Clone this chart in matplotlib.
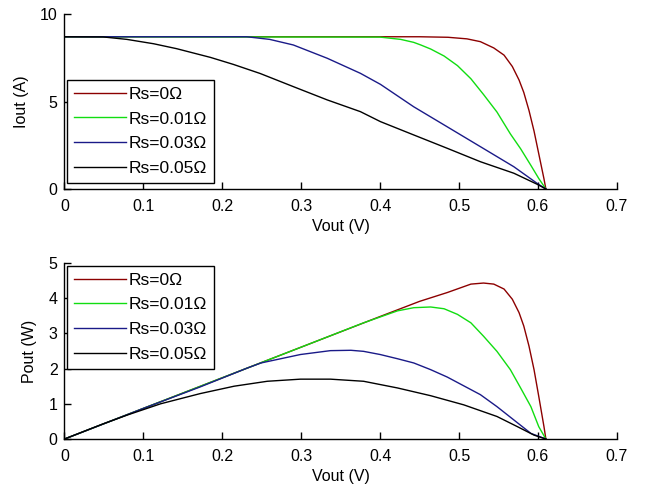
import matplotlib
matplotlib.use("Agg")
import matplotlib.pyplot as plt

plt.rcParams["font.family"] = ["Liberation Sans", "DejaVu Sans"]
plt.rcParams["font.size"] = 11.5

labels = ["Rs=0\u03a9", "Rs=0.01\u03a9", "Rs=0.03\u03a9", "Rs=0.05\u03a9"]
colors = ["#8c0000", "#11dd11", "#1a1a88", "#000000"]

# I-V curves
v_i_rs0 = [0, 0.45, 0.486, 0.51, 0.527, 0.544, 0.557, 0.5675, 0.576, 0.582, 0.5886, 0.595, 0.601,
           0.6076, 0.61]
i_rs0 = [8.7, 8.7, 8.67, 8.58, 8.42, 8.06, 7.65, 7.0, 6.23, 5.52, 4.49, 3.31, 2.01, 0.58, 0]

v_i_rs001 = [0, 0.40, 0.426, 0.4425, 0.4515, 0.464, 0.481, 0.498, 0.515, 0.531, 0.548, 0.565, 0.578,
             0.591, 0.601, 0.61]
i_rs001 = [8.7, 8.68, 8.55, 8.38, 8.23, 8.0, 7.6, 7.05, 6.3, 5.4, 4.4, 3.15, 2.3, 1.35, 0.6, 0]

v_i_rs003 = [0, 0.231, 0.26, 0.29, 0.333, 0.375, 0.4004, 0.4425, 0.4848, 0.527, 0.5695, 0.599, 0.61]
i_rs003 = [8.7, 8.7, 8.55, 8.23, 7.47, 6.61, 5.98, 4.70, 3.56, 2.42, 1.27, 0.32, 0]

v_i_rs005 = [0, 0.049, 0.079, 0.113, 0.142, 0.185, 0.214, 0.248, 0.290, 0.333, 0.375, 0.4004, 0.4425,
             0.4848, 0.527, 0.5695, 0.599, 0.61]
i_rs005 = [8.7, 8.69, 8.55, 8.3, 8.02, 7.52, 7.12, 6.6, 5.85, 5.09, 4.42, 3.85, 3.09, 2.33, 1.56, 0.90,
           0.27, 0]

# P-V curves
v_p_rs0 = [0, 0.1, 0.2, 0.3, 0.4, 0.45, 0.485, 0.515, 0.531, 0.544, 0.557, 0.5675, 0.576, 0.582,
           0.5886, 0.595, 0.601, 0.6076, 0.61]
p_rs0 = [0, 0.87, 1.74, 2.61, 3.48, 3.91, 4.16, 4.40, 4.43, 4.40, 4.26, 3.97, 3.59, 3.21, 2.64, 1.97,
         1.21, 0.35, 0]

v_p_rs001 = [0, 0.1, 0.2, 0.3, 0.379, 0.422, 0.4426, 0.464, 0.481, 0.498, 0.515, 0.531, 0.548, 0.565,
             0.578, 0.591, 0.601, 0.61]
p_rs001 = [0, 0.87, 1.74, 2.61, 3.30, 3.64, 3.73, 3.75, 3.70, 3.54, 3.30, 2.92, 2.49, 1.97, 1.45, 0.92,
           0.35, 0]

v_p_rs003 = [0, 0.1, 0.172, 0.231, 0.249, 0.299, 0.337, 0.363, 0.379, 0.4, 0.422, 0.4426, 0.464, 0.485,
             0.506, 0.527, 0.548, 0.5695, 0.591, 0.61]
p_rs003 = [0, 0.87, 1.48, 2.01, 2.16, 2.40, 2.51, 2.52, 2.49, 2.40, 2.28, 2.16, 1.97, 1.76, 1.51, 1.26,
           0.92, 0.54, 0.16, 0]

v_p_rs005 = [0, 0.049, 0.0795, 0.1218, 0.172, 0.215, 0.257, 0.299, 0.337, 0.379, 0.422, 0.464, 0.506,
             0.548, 0.574, 0.595, 0.61]
p_rs005 = [0, 0.43, 0.68, 1.0, 1.29, 1.5, 1.64, 1.70, 1.70, 1.64, 1.45, 1.23, 0.97, 0.64, 0.35, 0.11, 0]

iv_curves = [(v_i_rs0, i_rs0), (v_i_rs001, i_rs001), (v_i_rs003, i_rs003), (v_i_rs005, i_rs005)]
pv_curves = [(v_p_rs0, p_rs0), (v_p_rs001, p_rs001), (v_p_rs003, p_rs003), (v_p_rs005, p_rs005)]

fig = plt.figure(figsize=(6.48, 4.88), dpi=100)
ax1 = fig.add_axes([0.0995, 0.6127, 0.8525, 0.3586])
ax2 = fig.add_axes([0.0995, 0.1004, 0.8525, 0.3607])

legend_opts = dict(fancybox=False, edgecolor="black", framealpha=1, fontsize=12.5,
                   handlelength=3.0, labelspacing=0.55, borderpad=0.4, handletextpad=0.15,
                   borderaxespad=0)


def style(ax):
    ax.spines["top"].set_visible(False)
    ax.spines["right"].set_visible(False)
    ax.spines["left"].set_linewidth(1.0)
    ax.spines["bottom"].set_linewidth(1.0)
    ax.tick_params(direction="in", length=5, width=1.0)
    ax.tick_params(axis="x", pad=7)
    ax.tick_params(axis="y", pad=5)
    ax.set_xlim(0, 0.7)
    ax.set_xticks([0, 0.1, 0.2, 0.3, 0.4, 0.5, 0.6, 0.7])
    ax.set_xticklabels(["0", "0.1", "0.2", "0.3", "0.4", "0.5", "0.6", "0.7"])
    ax.set_xlabel("Vout (V)", labelpad=4)


for (v, i), c, lab in zip(iv_curves, colors, labels):
    ax1.plot(v, i, color=c, lw=1.0, label=lab)
style(ax1)
ax1.set_ylim(0, 10)
ax1.set_yticks([0, 5, 10])
ax1.set_ylabel("Iout (A)", labelpad=8)
leg1 = ax1.legend(loc="lower left", bbox_to_anchor=(0.004, 0.035), **legend_opts)
leg1.get_frame().set_linewidth(1.0)

for (v, p), c, lab in zip(pv_curves, colors, labels):
    ax2.plot(v, p, color=c, lw=1.0, label=lab)
style(ax2)
ax2.set_ylim(0, 5)
ax2.set_yticks([0, 1, 2, 3, 4, 5])
ax2.set_ylabel("Pout (W)", labelpad=8)
leg2 = ax2.legend(loc="upper left", bbox_to_anchor=(0.004, 0.985), **legend_opts)
leg2.get_frame().set_linewidth(1.0)

fig.savefig("out.png", dpi=100)
